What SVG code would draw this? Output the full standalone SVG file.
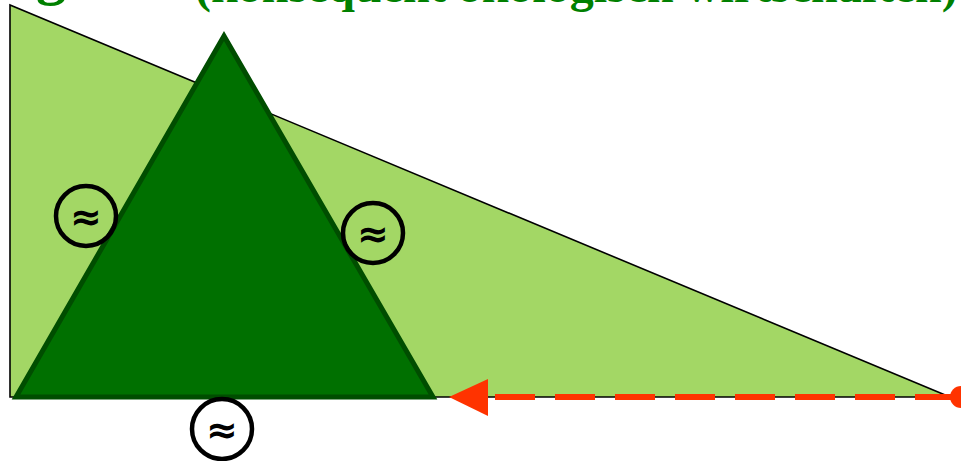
<svg xmlns="http://www.w3.org/2000/svg" width="961" height="461" viewBox="0 0 961 461">
<defs>
<style>
.title{font-family:"Liberation Serif",serif;fill:#008000;font-weight:bold}
.circ{fill:none;stroke:#000;stroke-width:4.5}
.sym{font-family:"DejaVu Sans",sans-serif;font-size:38px;font-weight:bold;fill:#000;text-anchor:middle}
</style>
</defs>
<rect width="961" height="461" fill="#fff"/>
<text class="title" x="36" y="-7" font-size="60">g</text>
<text class="title" x="195" y="2" font-size="48">(konsequent ökologisch wirtschaften)</text>
<g id="big-triangle">
<polygon points="10,5 10,397 950,397" fill="#a3d765" stroke="#000" stroke-width="1.6"/>
</g>
<g id="small-triangle">
<polygon points="224,36 16,397 433,397" fill="#007000" stroke="#004d00" stroke-width="5" stroke-linejoin="miter"/>
</g>
<g id="connectors">
<line x1="955" y1="397" x2="488" y2="397" stroke="#ff3300" stroke-width="6" stroke-dasharray="40,20"/>
<polygon points="449,397 488,379 488,416" fill="#ff3300"/>
<circle cx="961" cy="397" r="11" fill="#ff3300"/>
</g>
<g id="c1"><circle class="circ" cx="86" cy="216" r="30"/><text class="sym" x="86" y="230">≈</text></g>
<g id="c2"><circle class="circ" cx="373" cy="233" r="30"/><text class="sym" x="373" y="247">≈</text></g>
<g id="c3"><circle class="circ" cx="222" cy="429" r="30"/><text class="sym" x="222" y="443">≈</text></g>
</svg>
